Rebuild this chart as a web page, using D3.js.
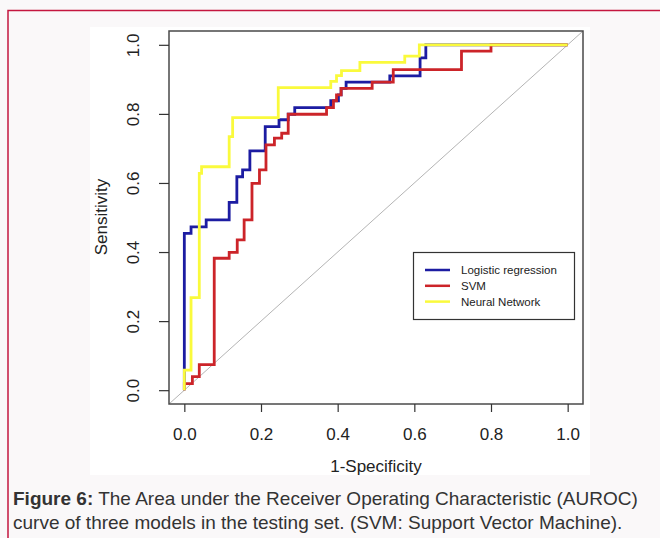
<!DOCTYPE html>
<html>
<head>
<meta charset="utf-8">
<script src="https://cdn.jsdelivr.net/npm/d3@7"></script>
<style>
  body { margin: 0; background: #faf8f9; }
  text { font-family: "Liberation Sans", Arial, sans-serif; }
</style>
</head>
<body>
<script>
// Courbes ROC : points (1-spécificité, sensibilité) en haut de chaque marche
var lrFpr  = [0, 0, 0.0175, 0.057, 0.117, 0.137, 0.152, 0.171, 0.211, 0.247, 0.271, 0.288, 0.382, 0.402, 0.409, 0.422, 0.536, 0.615, 0.630, 1.0];
var lrTpr  = [0, 0.454, 0.473, 0.493, 0.544, 0.618, 0.638, 0.693, 0.763, 0.783, 0.799, 0.818, 0.838, 0.855, 0.874, 0.892, 0.910, 0.962, 1.0, 1.0];

var svmFpr = [0, 0, 0.021, 0.039, 0.078, 0.117, 0.138, 0.156, 0.1765, 0.196, 0.213, 0.235, 0.254, 0.271, 0.371, 0.389, 0.397, 0.409, 0.49, 0.545, 0.723, 0.80, 1.0];
var svmTpr = [0, 0.019, 0.039, 0.074, 0.382, 0.399, 0.435, 0.493, 0.599, 0.638, 0.710, 0.730, 0.744, 0.799, 0.818, 0.838, 0.855, 0.874, 0.892, 0.928, 0.982, 1.0, 1.0];

var nnFpr  = [0, 0, 0.0175, 0.039, 0.045, 0.117, 0.126, 0.245, 0.382, 0.397, 0.41, 0.458, 0.575, 0.613, 1.0];
var nnTpr  = [0, 0.058, 0.268, 0.628, 0.647, 0.734, 0.789, 0.876, 0.894, 0.911, 0.925, 0.949, 0.967, 1.0, 1.0];

var models = ["Logistic regression", "SVM", "Neural Network"];
var couleurs = ["#1c1ca2", "#cc2429", "#fafa3c"];
var ticks = [0, 0.2, 0.4, 0.6, 0.8, 1.0];

function paires(xs, ys) {
    return xs.map(function (d, i) { return [d, ys[i]]; });
}
var series = [paires(lrFpr, lrTpr), paires(svmFpr, svmTpr), paires(nnFpr, nnTpr)];

var svg = d3.select("body").append("svg")
    .attr("width", 660)
    .attr("height", 538);

// cadre rouge de la figure
svg.append("rect")
    .attr("x", 8).attr("y", 10.5)
    .attr("width", 700).attr("height", 600)
    .attr("fill", "none")
    .attr("stroke", "#c4163f")
    .attr("stroke-width", 1.5);

// fond blanc de l'image
svg.append("rect")
    .attr("x", 90).attr("y", 27)
    .attr("width", 500).attr("height", 448)
    .attr("fill", "#ffffff");

// échelles (domaine étendu de 4 % comme dans R)
var x = d3.scaleLinear().domain([-0.04, 1.04]).range([169, 583]);
var y = d3.scaleLinear().domain([-0.04, 1.04]).range([404, 31]);

svg.append("defs").append("clipPath").attr("id", "zone")
    .append("rect")
    .attr("x", 169).attr("y", 31)
    .attr("width", 414).attr("height", 373);

// diagonale
svg.append("line")
    .attr("clip-path", "url(#zone)")
    .attr("x1", x(-0.04)).attr("y1", y(-0.04))
    .attr("x2", x(1.04)).attr("y2", y(1.04))
    .attr("stroke", "#b4b4b4")
    .attr("stroke-width", 1);

var ligne = d3.line()
    .x(function (d) { return x(d[0]); })
    .y(function (d) { return y(d[1]); })
    .curve(d3.curveStepAfter);

series.forEach(function (s, i) {
    svg.append("path")
        .attr("d", ligne(s))
        .attr("fill", "none")
        .attr("stroke", couleurs[i])
        .attr("stroke-width", 2.8);
});

// boîte
svg.append("rect")
    .attr("x", 169).attr("y", 31)
    .attr("width", 414).attr("height", 373)
    .attr("fill", "none")
    .attr("stroke", "#4a4a4a")
    .attr("stroke-width", 1.5);

// axes
var axeX = svg.append("g")
    .attr("transform", "translate(0,404)")
    .call(d3.axisBottom(x).tickValues(ticks).tickFormat(d3.format(".1f")).tickSize(8).tickPadding(16));
axeX.select(".domain").remove();
axeX.selectAll("line").attr("stroke", "#333").attr("stroke-width", 1.2);
axeX.selectAll("text").attr("font-size", 17).attr("fill", "#222")
    .attr("font-family", "Liberation Sans, Arial, sans-serif");

var axeY = svg.append("g")
    .attr("transform", "translate(169,0)")
    .call(d3.axisLeft(y).tickValues(ticks).tickFormat(d3.format(".1f")).tickSize(10));
axeY.select(".domain").remove();
axeY.selectAll("line").attr("stroke", "#333").attr("stroke-width", 1.2);
axeY.selectAll("text")
    .attr("font-size", 17).attr("fill", "#222")
    .attr("font-family", "Liberation Sans, Arial, sans-serif")
    .attr("transform", "rotate(-90)")
    .attr("x", 0).attr("y", -36).attr("dy", "0.35em")
    .attr("text-anchor", "middle");

// titres des axes
svg.append("text")
    .attr("x", 376).attr("y", 472)
    .attr("text-anchor", "middle")
    .attr("font-size", 17).attr("fill", "#222")
    .text("1-Specificity");

svg.append("text")
    .attr("transform", "translate(107,217) rotate(-90)")
    .attr("text-anchor", "middle")
    .attr("font-size", 17).attr("fill", "#222")
    .text("Sensitivity");

// légende
var leg = svg.append("g");
leg.append("rect")
    .attr("x", 413.5).attr("y", 252.5)
    .attr("width", 161).attr("height", 67)
    .attr("fill", "#fff")
    .attr("stroke", "#333").attr("stroke-width", 1.2);
models.forEach(function (m, i) {
    var yy = 270 + i * 15.8;
    leg.append("line")
        .attr("x1", 425).attr("x2", 450)
        .attr("y1", yy).attr("y2", yy)
        .attr("stroke", couleurs[i]).attr("stroke-width", 2.5);
    leg.append("text")
        .attr("x", 461).attr("y", yy).attr("dy", "0.35em")
        .attr("font-size", 11.5).attr("fill", "#222")
        .text(m);
});

// légende de la figure
var cap = svg.append("text").attr("font-size", 19).attr("fill", "#333");
var l1 = cap.append("tspan").attr("x", 13).attr("y", 505);
l1.append("tspan").attr("font-weight", "bold").text("Figure 6:");
l1.append("tspan").text(" The Area under the Receiver Operating Characteristic (AUROC)");
cap.append("tspan").attr("x", 13).attr("y", 529)
    .text("curve of three models in the testing set. (SVM: Support Vector Machine).");
</script>
</body>
</html>
